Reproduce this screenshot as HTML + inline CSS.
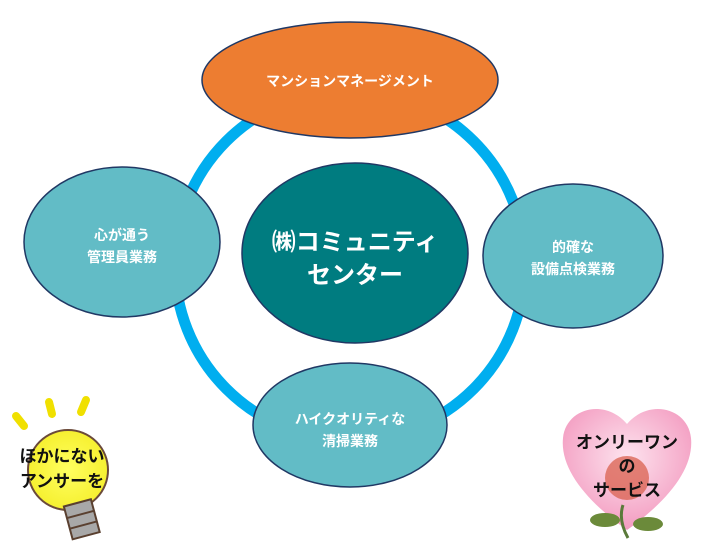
<!DOCTYPE html>
<html><head><meta charset="utf-8"><style>
html,body{margin:0;padding:0;background:#fff;}
svg{display:block;}
text{font-family:"Liberation Sans","Noto Sans CJK JP",sans-serif;font-weight:bold;}
</style></head><body>
<svg width="702" height="549" viewBox="0 0 702 549" xmlns="http://www.w3.org/2000/svg">
<defs>
<radialGradient id="hg" cx="50%" cy="40%" r="60%"><stop offset="0" stop-color="#fde3ee"/><stop offset="1" stop-color="#f39bc0"/></radialGradient>
<radialGradient id="bg" cx="50%" cy="50%" r="50%"><stop offset="0" stop-color="#ffff60"/><stop offset="1" stop-color="#f6f030"/></radialGradient>
</defs>
<circle cx="350" cy="265" r="175" fill="none" stroke="#00AEEF" stroke-width="11"/>
<ellipse cx="350" cy="80" rx="148" ry="58" fill="#ED7D31" stroke="#203864" stroke-width="1.5"/>
<text x="350" y="86" fill="#fff" font-size="14" text-anchor="middle">マンションマネージメント</text>
<ellipse cx="122" cy="242" rx="98" ry="75" fill="#62BCC6" stroke="#203864" stroke-width="1.5"/>
<text x="122" y="240" fill="#fff" font-size="14" text-anchor="middle">心が通う</text>
<text x="122" y="262" fill="#fff" font-size="14" text-anchor="middle">管理員業務</text>
<ellipse cx="573" cy="256" rx="90" ry="72" fill="#62BCC6" stroke="#203864" stroke-width="1.5"/>
<text x="573" y="252" fill="#fff" font-size="14" text-anchor="middle">的確な</text>
<text x="573" y="274" fill="#fff" font-size="14" text-anchor="middle">設備点検業務</text>
<ellipse cx="350" cy="425" rx="97" ry="62" fill="#62BCC6" stroke="#203864" stroke-width="1.5"/>
<text x="350" y="424" fill="#fff" font-size="14" text-anchor="middle">ハイクオリティな</text>
<text x="350" y="446" fill="#fff" font-size="14" text-anchor="middle">清掃業務</text>
<ellipse cx="355" cy="253" rx="113" ry="90" fill="#007C80" stroke="#203864" stroke-width="1.5"/>
<text x="355" y="250" fill="#fff" font-size="24" text-anchor="middle">㈱コミュニティ</text>
<text x="355" y="283" fill="#fff" font-size="24" text-anchor="middle">センター</text>
<!-- bulb -->
<g stroke-linecap="round" stroke="#f0e000" stroke-width="8">
<line x1="16" y1="416" x2="24" y2="426"/><line x1="49" y1="402" x2="52" y2="414"/><line x1="86" y1="400" x2="81" y2="412"/>
</g>
<circle cx="68" cy="470" r="40" fill="url(#bg)" stroke="#6b4a3a" stroke-width="2"/>
<g transform="rotate(-15 83 520)"><rect x="68" y="502" width="28" height="34" fill="#a8a8a8" stroke="#5a4030" stroke-width="2"/><line x1="68" y1="514" x2="96" y2="514" stroke="#5a4030" stroke-width="2"/><line x1="68" y1="525" x2="96" y2="525" stroke="#5a4030" stroke-width="2"/></g>
<text x="62" y="462" fill="#111" font-size="17" text-anchor="middle">ほかにない</text>
<text x="62" y="487" fill="#111" font-size="17" text-anchor="middle">アンサーを</text>
<!-- heart -->
<path d="M627 530 C585 500 560 468 563 438 C566 408 605 398 627 424 C649 398 688 408 691 438 C694 468 669 500 627 530 Z" fill="url(#hg)"/>
<path d="M623 505 Q618 520 628 538" stroke="#5a7a3a" stroke-width="3" fill="none"/>
<ellipse cx="605" cy="520" rx="15" ry="7" fill="#6b8a3a"/><ellipse cx="648" cy="524" rx="15" ry="7" fill="#6b8a3a"/>
<circle cx="627" cy="478" r="22" fill="#d9604d" opacity="0.75"/>
<text x="627" y="448" fill="#111" font-size="17" text-anchor="middle">オンリーワン</text>
<text x="627" y="472" fill="#111" font-size="17" text-anchor="middle">の</text>
<text x="627" y="496" fill="#111" font-size="17" text-anchor="middle">サービス</text>
</svg>
</body></html>
